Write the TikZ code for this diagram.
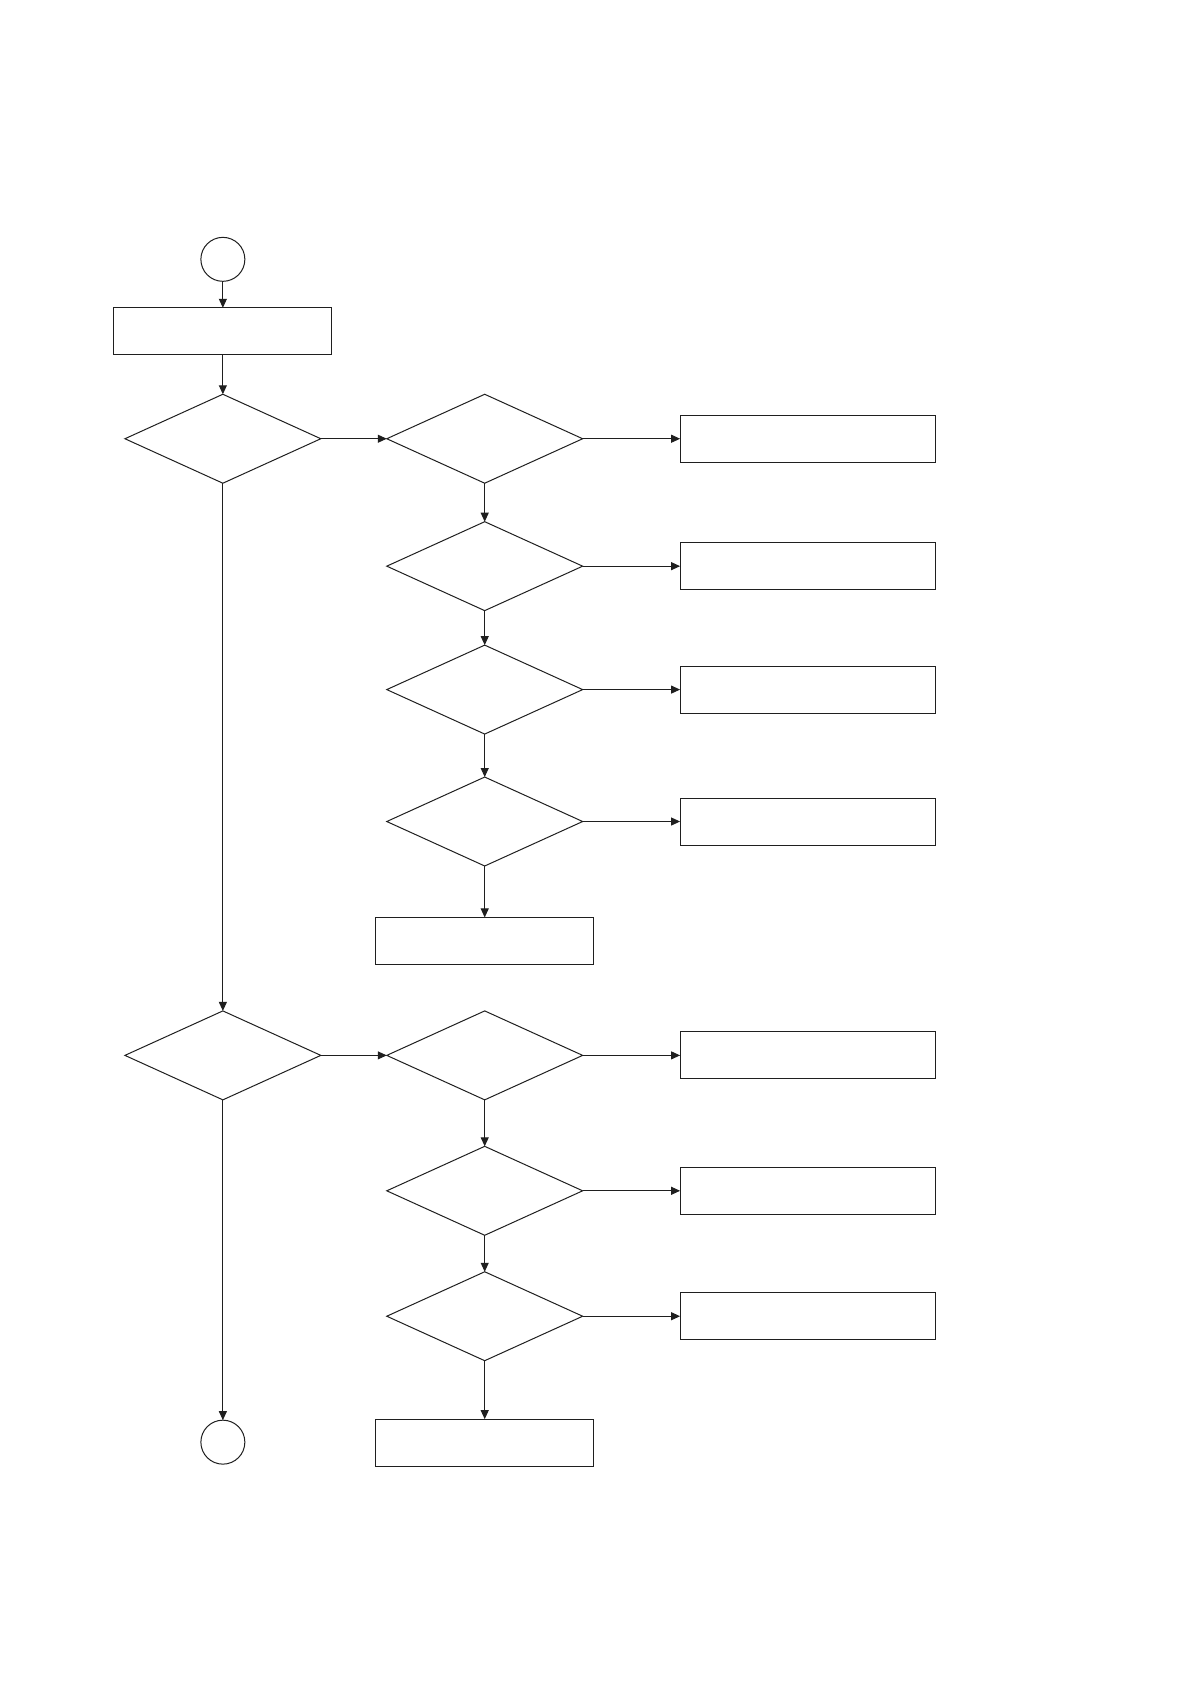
\documentclass[tikz,border=0pt]{standalone}
\usetikzlibrary{shapes.geometric,arrows.meta}
\begin{document}
\begin{tikzpicture}[x=1pt,y=-1pt,
  every path/.style={line width=1pt, draw=black!88},
  dec/.style={diamond, draw, minimum width=196pt, minimum height=89pt, inner sep=0pt, outer sep=0pt},
  procbox/.style={rectangle, draw, minimum width=218pt, minimum height=47pt, inner sep=0pt, outer sep=0pt},
  sidebox/.style={rectangle, draw, minimum width=256pt, minimum height=47pt, inner sep=0pt, outer sep=0pt},
  term/.style={circle, draw, minimum size=44pt, inner sep=0pt, outer sep=0pt},
  arr/.style={-{Triangle[length=9pt,width=8pt]}}]
\useasboundingbox (0,0) rectangle (1191,1684);
\fill[white] (0,0) rectangle (1191,1684);
% nodes
\node[term] (c1) at (222.5,259) {};
\node[procbox] (b1) at (222.5,331) {};
\node[dec] (d1) at (222.5,438.5) {};
\node[dec] (d2) at (484.5,438.5) {};
\node[dec] (d3) at (484.5,566) {};
\node[dec] (d4) at (484.5,689.5) {};
\node[dec] (d5) at (484.5,821.5) {};
\node[procbox] (b5) at (484.5,941) {};
\node[sidebox] (r1) at (808,438.5) {};
\node[sidebox] (r2) at (808,566) {};
\node[sidebox] (r3) at (808,689.5) {};
\node[sidebox] (r4) at (808,821.5) {};
\node[dec] (d6) at (222.5,1055.5) {};
\node[dec] (d7) at (484.5,1055.5) {};
\node[dec] (d8) at (484.5,1191) {};
\node[dec] (d9) at (484.5,1316.5) {};
\node[sidebox] (r5) at (808,1055.5) {};
\node[sidebox] (r6) at (808,1191) {};
\node[sidebox] (r7) at (808,1316.5) {};
\node[procbox] (b9) at (484.5,1443) {};
\node[term] (c2) at (222.5,1442.5) {};
% connectors
\draw[arr] (c1) -- (b1);
\draw[arr] (b1) -- (d1);
\draw[arr] (d1.east) -- (d2.west);
\draw[arr] (d1.south) -- (d6.north);
\draw[arr] (d2.east) -- (r1.west);
\draw[arr] (d2.south) -- (d3.north);
\draw[arr] (d3.east) -- (r2.west);
\draw[arr] (d3.south) -- (d4.north);
\draw[arr] (d4.east) -- (r3.west);
\draw[arr] (d4.south) -- (d5.north);
\draw[arr] (d5.east) -- (r4.west);
\draw[arr] (d5.south) -- (b5.north);
\draw[arr] (d6.east) -- (d7.west);
\draw[arr] (d6.south) -- (c2.north);
\draw[arr] (d7.east) -- (r5.west);
\draw[arr] (d7.south) -- (d8.north);
\draw[arr] (d8.east) -- (r6.west);
\draw[arr] (d8.south) -- (d9.north);
\draw[arr] (d9.east) -- (r7.west);
\draw[arr] (d9.south) -- (b9.north);
\end{tikzpicture}
\end{document}
